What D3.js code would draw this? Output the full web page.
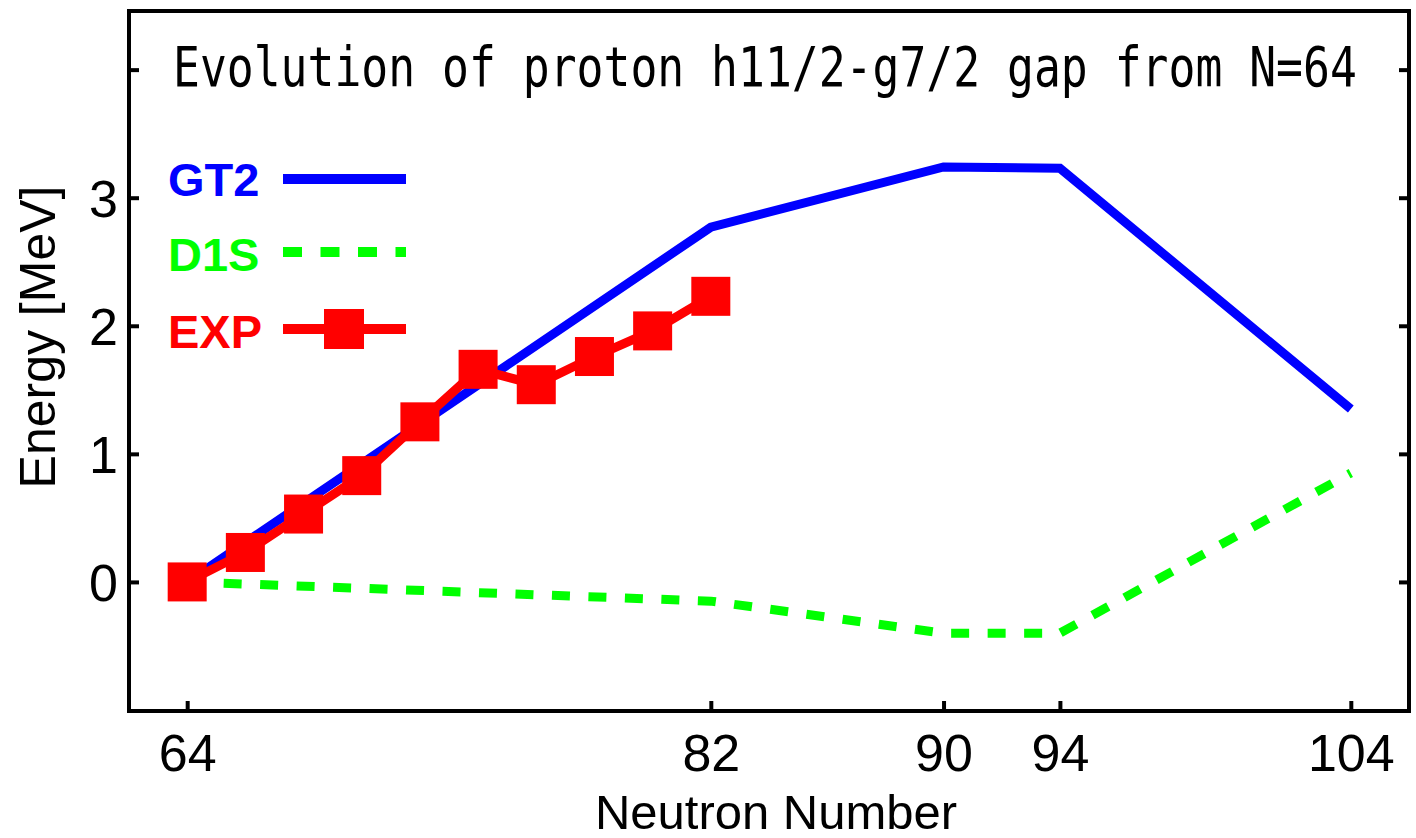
<!DOCTYPE html>
<html>
<head>
<meta charset="utf-8">
<script src="https://cdn.jsdelivr.net/npm/d3@7"></script>
<style>
  html, body { margin: 0; padding: 0; background: #fff; }
  svg { display: block; }
</style>
</head>
<body>
<svg id="chart" width="1416" height="838"></svg>
<script>
// ---- data ----
const gt2N = [64, 82, 90, 94, 104];
const gt2E = [0.0, 2.77, 3.24, 3.23, 1.35];

const d1sN = [64, 82, 90, 94, 104];
const d1sE = [0.0, -0.15, -0.40, -0.40, 0.85];

const expN = [64, 66, 68, 70, 72, 74, 76, 78, 80, 82];
const expE = [0.0, 0.23, 0.53, 0.83, 1.25, 1.66, 1.54, 1.76, 1.96, 2.23];

const xTicks = [64, 82, 90, 94, 104];
const yTicks = [0, 1, 2, 3, 4];
const yLabelTicks = [0, 1, 2, 3];

const titleText = "Evolution of proton h11/2-g7/2 gap from N=64";
const xTitle = "Neutron Number";
const yTitle = "Energy [MeV]";
const seriesNames = ["GT2", "D1S", "EXP"];
const seriesColors = ["#0000ff", "#00ff00", "#ff0000"];

// ---- layout ----
const svg = d3.select("#chart");
const L = 129, R = 1409, T = 11, B = 711;

const x = d3.scaleLinear().domain([62, 106]).range([L, R]);
const y = d3.scaleLinear().domain([-1, 4.45]).range([B - 1, T + 1]);

const sans = "'Liberation Sans', Arial, Helvetica, sans-serif";

// series lines
const line = d3.line().x(d => x(d[0])).y(d => y(d[1]));

const d1s = d1sN.map((n, i) => [n, d1sE[i]]);
const gt2 = gt2N.map((n, i) => [n, gt2E[i]]);
const exp = expN.map((n, i) => [n, expE[i]]);

svg.append("path").datum(d1s).attr("d", line)
  .attr("fill", "none").attr("stroke", seriesColors[1]).attr("stroke-width", 9)
  .attr("stroke-dasharray", "18,18.5").attr("stroke-linejoin", "miter");

svg.append("path").datum(gt2).attr("d", line)
  .attr("fill", "none").attr("stroke", seriesColors[0]).attr("stroke-width", 9)
  .attr("stroke-linejoin", "miter");

svg.append("path").datum(exp).attr("d", line)
  .attr("fill", "none").attr("stroke", seriesColors[2]).attr("stroke-width", 9)
  .attr("stroke-linejoin", "miter");

const sq = 39;
svg.append("g").selectAll("rect").data(exp).join("rect")
  .attr("x", d => x(d[0]) - sq / 2).attr("y", d => y(d[1]) - sq / 2)
  .attr("width", sq).attr("height", sq).attr("fill", seriesColors[2]);

// axes (inward ticks)
const axL = svg.append("g").attr("transform", `translate(${L},0)`)
  .call(d3.axisLeft(y).tickValues(yTicks).tickSizeInner(-10).tickSizeOuter(0)
    .tickFormat(d => yLabelTicks.includes(d) ? d : ""));
const axR = svg.append("g").attr("transform", `translate(${R},0)`)
  .call(d3.axisRight(y).tickValues(yTicks).tickSizeInner(-10).tickSizeOuter(0).tickFormat(""));
const axB = svg.append("g").attr("transform", `translate(0,${B})`)
  .call(d3.axisBottom(x).tickValues(xTicks).tickSizeInner(-10).tickSizeOuter(0));

[axL, axR, axB].forEach(a => {
  a.select(".domain").remove();
  a.selectAll(".tick line").attr("stroke", "#000").attr("stroke-width", 4);
});
axL.selectAll(".tick text")
  .attr("x", -11).attr("dy", "0.36em")
  .style("font-family", sans).style("font-size", "52px").attr("fill", "#000");
axB.selectAll(".tick text")
  .attr("y", 60).attr("dy", 0)
  .style("font-family", sans).style("font-size", "52px").attr("fill", "#000");

// frame
svg.append("rect").attr("x", L).attr("y", T).attr("width", R - L).attr("height", B - T)
  .attr("fill", "none").attr("stroke", "#000").attr("stroke-width", 4);

// axis titles
svg.append("text").attr("x", (L + R) / 2 + 7).attr("y", 829).attr("text-anchor", "middle")
  .style("font-family", sans).style("font-size", "49px").text(xTitle);
svg.append("text").attr("transform", "translate(55,337) rotate(-90)").attr("text-anchor", "middle")
  .style("font-family", sans).style("font-size", "50px").text(yTitle);

// title (condensed monospace, scaled horizontally to the reference width)
const title = svg.append("text")
  .style("font-family", "'DejaVu Sans Mono', 'Liberation Mono', monospace")
  .style("font-size", "56px").text(titleText);
const natural = title.node().getComputedTextLength();
const k = 1184 / natural;
title.attr("transform", `translate(173,86) scale(${k},1)`);

// legend
const legY = [196, 271, 348];
const legLineY = [179, 252, 329];
seriesNames.forEach((name, i) => {
  svg.append("text").attr("x", 168).attr("y", legY[i])
    .style("font-family", sans).style("font-weight", "bold").style("font-size", "47px")
    .attr("fill", seriesColors[i]).text(name);
  const ln = svg.append("line").attr("x1", 283).attr("x2", 406)
    .attr("y1", legLineY[i]).attr("y2", legLineY[i])
    .attr("stroke", seriesColors[i]).attr("stroke-width", 10);
  if (i === 1) ln.attr("stroke-dasharray", "19,18.5");
  if (i === 2) {
    svg.append("rect").attr("x", 344 - 20).attr("y", legLineY[i] - 20)
      .attr("width", 40).attr("height", 40).attr("fill", seriesColors[i]);
  }
});
</script>
</body>
</html>
